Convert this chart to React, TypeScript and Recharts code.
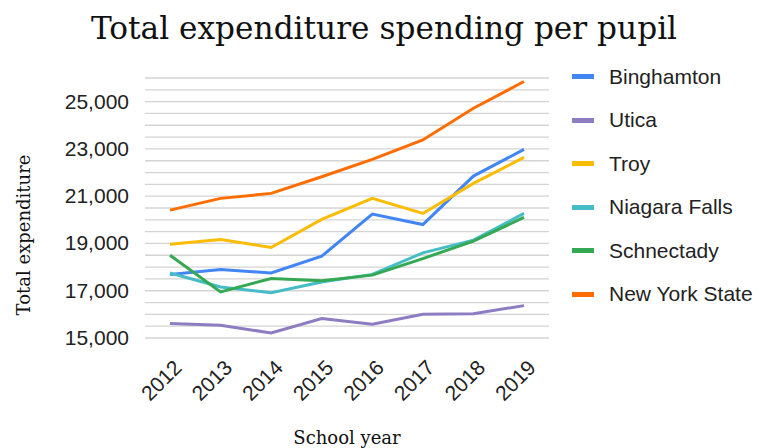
import React from 'react';
import { LineChart, Line, XAxis, YAxis, CartesianGrid, Legend } from 'recharts';

const years = ['2012', '2013', '2014', '2015', '2016', '2017', '2018', '2019'];
const binghamton = [17690, 17900, 17750, 18460, 20240, 19800, 21850, 22980];
const utica = [15610, 15540, 15210, 15820, 15580, 16000, 16030, 16370];
const troy = [18970, 19170, 18830, 20020, 20910, 20270, 21540, 22640];
const niagaraFalls = [17750, 17160, 16920, 17370, 17690, 18600, 19140, 20270];
const schnectady = [18500, 16950, 17520, 17420, 17660, 18360, 19100, 20100];
const newYorkState = [20411, 20907, 21118, 21820, 22560, 23380, 24720, 25850];

const yLabelTicks = [15000, 17000, 19000, 21000, 23000, 25000];
const yGridTicks = [15000, 15500, 16000, 16500, 17000, 17500, 18000, 18500, 19000, 19500, 20000, 20500, 21000, 21500, 22000, 22500, 23000, 23500, 24000, 24500, 25000, 25500, 26000];

const series = [
  { key: 'Binghamton', values: binghamton, color: '#4285F4' },
  { key: 'Utica', values: utica, color: '#8E7CC3' },
  { key: 'Troy', values: troy, color: '#FBBC04' },
  { key: 'Niagara Falls', values: niagaraFalls, color: '#46BDC6' },
  { key: 'Schnectady', values: schnectady, color: '#34A853' },
  { key: 'New York State', values: newYorkState, color: '#FF6D01' },
];

const data = years.map((y, i) => {
  const row: Record<string, any> = { year: y };
  series.forEach((s) => { row[s.key] = s.values[i]; });
  return row;
});

const SANS = '"Liberation Sans", Arial, sans-serif';
const SERIF = '"DejaVu Serif", serif';

const YTick = (props: any) => {
  const { x, y, payload } = props;
  if (!yLabelTicks.includes(payload.value)) return null;
  return (
    <text x={x - 8} y={y} dy={7} textAnchor="end" fontFamily={SANS} fontSize={21} fill="#222">
      {payload.value.toLocaleString('en-US')}
    </text>
  );
};

const XTick = (props: any) => {
  const { x, y, payload } = props;
  const ax = x + 13;
  const ay = y + 23;
  return (
    <text x={ax} y={ay} textAnchor="end" transform={`rotate(-45 ${ax} ${ay})`} fontFamily={SANS} fontSize={21} fill="#222">
      {payload.value}
    </text>
  );
};

const LegendContent = () => (
  <div style={{ fontFamily: SANS, fontSize: 21, color: '#222' }}>
    {series.map((s) => (
      <div key={s.key} style={{ display: 'flex', alignItems: 'center', height: 43.5 }}>
        <div style={{ width: 22, height: 5, background: s.color, marginRight: 15 }} />
        <span>{s.key}</span>
      </div>
    ))}
  </div>
);

export default function App() {
  return (
    <div style={{ position: 'absolute', left: 0, top: 0, width: 760, height: 448, background: '#fff' }}>
      <div style={{ position: 'absolute', left: 0, top: 8, width: 768, textAlign: 'center', fontFamily: SERIF, fontSize: 31.2, color: '#111', lineHeight: '40px' }}>
        Total expenditure spending per pupil
      </div>
      <div style={{ position: 'absolute', left: 23, top: 235, width: 0, height: 0 }}>
        <div style={{ position: 'absolute', transform: 'translate(-50%, -50%) rotate(-90deg)', whiteSpace: 'nowrap', fontFamily: SERIF, fontSize: 18, color: '#111' }}>
          Total expenditure
        </div>
      </div>
      <div style={{ position: 'absolute', left: 347, top: 437, width: 0, height: 0 }}>
        <div style={{ position: 'absolute', transform: 'translate(-50%, -50%)', whiteSpace: 'nowrap', fontFamily: SERIF, fontSize: 18, color: '#111' }}>
          School year
        </div>
      </div>
      <LineChart width={760} height={448} data={data} margin={{ top: 78, right: 21, bottom: 0, left: 0 }}>
        <CartesianGrid vertical={false} horizontalValues={yGridTicks} stroke="#d4d4d4" strokeWidth={1.3} />
        <XAxis dataKey="year" axisLine={false} tickLine={false} height={110} padding={{ left: 25, right: 25 }} tick={<XTick />} interval={0} />
        <YAxis domain={[15000, 26000]} ticks={yGridTicks} axisLine={false} tickLine={false} width={145} tick={<YTick />} interval={0} />
        <Legend layout="vertical" align="right" verticalAlign="top" content={<LegendContent />} wrapperStyle={{ left: 572, top: 55, width: 190 }} />
        {series.map((s) => (
          <Line key={s.key} type="linear" dataKey={s.key} stroke={s.color} strokeWidth={3} dot={false} isAnimationActive={false} />
        ))}
      </LineChart>
    </div>
  );
}
